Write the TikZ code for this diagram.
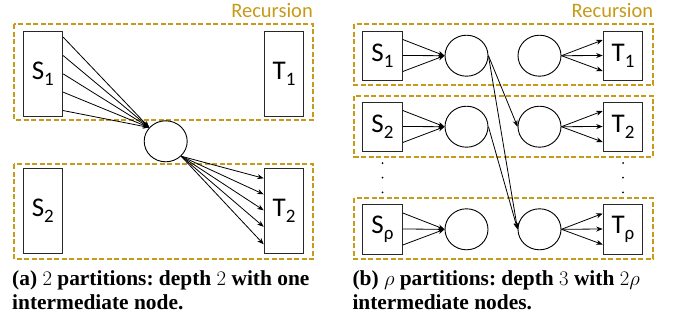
\documentclass[tikz,border=0pt]{standalone}
\usepackage{fontspec}
\newfontfamily\carl{Carlito}
\newfontfamily\capfont{Liberation Serif}
\usetikzlibrary{arrows.meta,shapes.geometric}
\definecolor{gold}{RGB}{199,154,24}
\definecolor{edge}{RGB}{40,40,40}
\newcommand\lab[2]{#1\raisebox{-6pt}{\fontsize{19}{19}\selectfont #2}}
\frenchspacing
\tikzset{
  recbox/.style={draw=gold,line width=2pt,dash pattern=on 5pt off 2.5pt},
  part/.style={draw=edge,line width=1pt,fill=white,minimum width=39.6pt,inner sep=0pt,font=\carl\fontsize{27}{27}\selectfont},
  hub/.style={draw=black,line width=0.9pt,ellipse,minimum width=43pt,minimum height=41pt,inner sep=0pt},
  arr/.style={draw=black,line width=0.8pt,-{Stealth[length=6.5pt,width=5pt]}},
  reclab/.style={anchor=base east,text=gold,font=\carl\fontsize{20.5}{20.5}\selectfont,inner sep=0pt},
  captext/.style={anchor=base west,inner sep=0pt,font=\capfont\bfseries\fontsize{21.4}{24}\selectfont},
  vdot/.style={circle,fill=black,inner sep=0pt,minimum size=2pt}
}
\begin{document}
\begin{tikzpicture}[x=1pt,y=-1pt]
\useasboundingbox (0,0) rectangle (681,322);
% ---------- panel (a)
\draw[recbox] (14,24) rectangle (313,119.5);
\draw[recbox] (14,164.3) rectangle (313,259.3);
\node[reclab] (ra) at (313,17) {Recursion};
\node[part,minimum height=85.7pt] (s1) at (42.85,73.85) {\lab{S}{1}};
\node[part,minimum height=85.7pt] (t1) at (284,73.85) {\lab{T}{1}};
\node[part,minimum height=85pt] (s2) at (42.85,210.8) {\lab{S}{2}};
\node[part,minimum height=85pt] (t2) at (284,210.8) {\lab{T}{2}};
\node[hub] (ca) at (165.7,141.3) {};
\foreach \d in {36.7,18.3,0,-18.3,-36.7}
  \draw[arr] ([yshift=\d pt]s1.east) -- (ca.140);
\foreach \d in {32.5,16.5,0.5,-16,-33.5}
  \draw[arr] (ca.-44) -- ([yshift=\d pt]t2.west);
\node[captext] (capa1) at (12,285) {(a) $2$ partitions: depth $2$ with one};
\node[captext] (capa2) at (12,309) {intermediate node.};
% ---------- panel (b)
\draw[recbox] (354.3,24) rectangle (653.3,85);
\draw[recbox] (354.3,96) rectangle (653.3,156.7);
\draw[recbox] (354.3,198.3) rectangle (653.3,259.3);
\node[reclab] (rb) at (653.3,17) {Recursion};
\node[part,minimum height=49pt] (bs1) at (382.5,55.5) {\lab{S}{1}};
\node[part,minimum height=49pt] (bt1) at (623,55.5) {\lab{T}{1}};
\node[part,minimum height=49pt] (bs2) at (382.5,126.5) {\lab{S}{2}};
\node[part,minimum height=49pt] (bt2) at (623,126.5) {\lab{T}{2}};
\node[part,minimum height=50pt] (bsr) at (382.5,229) {\lab{S}{ρ}};
\node[part,minimum height=50pt] (btr) at (623,229) {\lab{T}{ρ}};
\node[hub] (l1) at (466.5,55.7) {};
\node[hub] (l2) at (466.5,126.7) {};
\node[hub] (lr) at (466.5,229.3) {};
\node[hub] (r1) at (539.5,55.7) {};
\node[hub] (r2) at (539.5,126.7) {};
\node[hub] (rr) at (539.5,229.3) {};
\foreach \s/\l in {bs1/l1,bs2/l2,bsr/lr}
  \foreach \d in {16,0,-16}
    \draw[arr] ([yshift=\d pt]\s.east) -- (\l.west);
\foreach \r/\t in {r1/bt1,r2/bt2,rr/btr}
  \foreach \d in {15.5,0,-15.5}
    \draw[arr] (\r.east) -- ([yshift=\d pt]\t.west);
\draw[arr] (l1.east) -- (r2.west);
\draw[arr] (l1.east) -- (rr.west);
\draw[arr] (l2.east) -- (rr.west);
\foreach \y [count=\i] in {163,177.7,192.3}{
  \node[vdot] (dl\i) at (382.5,\y) {};
  \node[vdot] (dr\i) at (623,\y) {};
}
\node[captext] (capb1) at (352.3,285) {(b) $\rho$ partitions: depth $3$ with $2\rho$};
\node[captext] (capb2) at (352.3,309) {intermediate nodes.};
\end{tikzpicture}
\end{document}
